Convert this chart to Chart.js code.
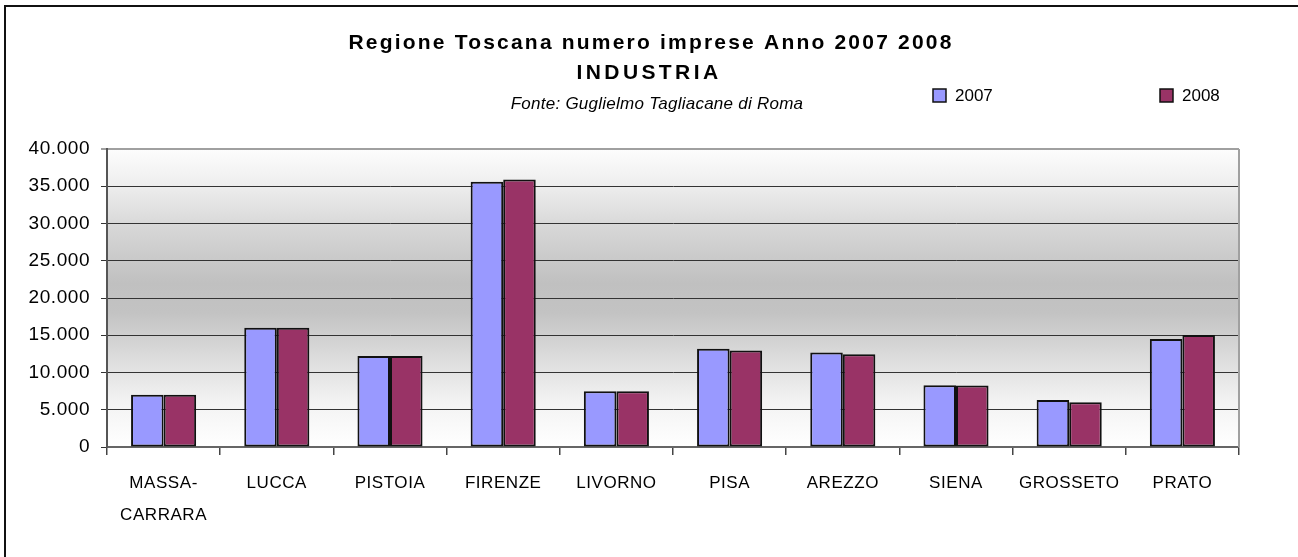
<!DOCTYPE html>
<html>
<head>
<meta charset="utf-8">
<title>Regione Toscana numero imprese</title>
<script src="https://cdn.jsdelivr.net/npm/chart.js@4.4.1/dist/chart.umd.min.js"></script>
<style>
  html, body { margin: 0; padding: 0; background: #fff; }
  #wrap { position: relative; width: 1298px; height: 557px; }
</style>
</head>
<body>
<div id="wrap"><canvas id="chart"></canvas></div>
<script>
// --- Data ---
const province = ['MASSA-CARRARA', 'LUCCA', 'PISTOIA', 'FIRENZE', 'LIVORNO', 'PISA', 'AREZZO', 'SIENA', 'GROSSETO', 'PRATO'];
const imprese2007 = [7000, 16000, 12200, 35600, 7500, 13200, 12700, 8300, 6300, 14500];
const imprese2008 = [7000, 16000, 12200, 35900, 7500, 12950, 12450, 8250, 6000, 15050];
const anni = ['2007', '2008'];
const titleLines = ['Regione Toscana numero imprese Anno 2007 2008', 'INDUSTRIA'];
const fonte = 'Fonte: Guglielmo Tagliacane di Roma';

const FONT = "'Liberation Sans', Arial, sans-serif";

// 40.000 style thousands separator
function formatNum(v) {
    return String(v).replace(/\B(?=(\d{3})+(?!\d))/g, '.');
}

// break "MASSA-CARRARA" after the hyphen
function splitLabel(s) {
    const i = s.indexOf('-');
    return i < 0 ? s : [s.slice(0, i + 1), s.slice(i + 1)];
}

function drawSpaced(ctx, text, x, y, font, spacing, align) {
    ctx.save();
    ctx.font = font;
    ctx.letterSpacing = spacing + 'px';
    ctx.textAlign = align;
    ctx.textBaseline = 'middle';
    ctx.fillStyle = '#000';
    ctx.fillText(text, x, y);
    ctx.restore();
}

// plot background, borders, title block and legend
const decorPlugin = {
    id: 'decor',
    beforeDraw(chart) {
        const { ctx, chartArea: a } = chart;
        ctx.save();
        const g = ctx.createLinearGradient(0, a.top, 0, a.bottom);
        g.addColorStop(0, '#fdfdfd');
        g.addColorStop(0.12, '#eeeeee');
        g.addColorStop(0.27, '#d6d6d6');
        g.addColorStop(0.45, '#c0c0c0');
        g.addColorStop(0.55, '#c3c3c3');
        g.addColorStop(0.7, '#dcdcdc');
        g.addColorStop(0.85, '#f3f3f3');
        g.addColorStop(1, '#ffffff');
        ctx.fillStyle = g;
        ctx.fillRect(a.left, a.top, a.right - a.left, a.bottom - a.top);
        ctx.restore();
        ctx.letterSpacing = '0.55px';
    },
    afterDraw(chart) {
        const { ctx, chartArea: a } = chart;
        ctx.save();
        ctx.letterSpacing = '0px';
        // right edge of the plot
        ctx.strokeStyle = '#a0a0a0';
        ctx.lineWidth = 2;
        ctx.beginPath();
        ctx.moveTo(a.right, a.top);
        ctx.lineTo(a.right, a.bottom);
        ctx.stroke();
        // outer frame
        ctx.strokeStyle = '#111';
        ctx.lineWidth = 2;
        ctx.strokeRect(5, 6, chart.width + 10, chart.height + 10);
        ctx.restore();

        const cx = chart.width / 2;
        drawSpaced(ctx, titleLines[0], cx + 2, 43, 'bold 21px ' + FONT, 2.2, 'center');
        drawSpaced(ctx, titleLines[1], cx, 73, 'bold 21px ' + FONT, 3.4, 'center');
        drawSpaced(ctx, fonte, cx + 8, 104, 'italic 17px ' + FONT, 0.25, 'center');

        // legend
        const legendX = [933, 1160];
        chart.data.datasets.forEach((ds, i) => {
            ctx.save();
            ctx.fillStyle = ds.backgroundColor;
            ctx.fillRect(legendX[i], 89, 13, 13);
            ctx.strokeStyle = '#111';
            ctx.lineWidth = 1.5;
            ctx.strokeRect(legendX[i], 89, 13, 13);
            ctx.restore();
            drawSpaced(ctx, ds.label, legendX[i] + 22, 96, '17px ' + FONT, 0, 'left');
        });
    }
};

const ctx = document.getElementById('chart').getContext('2d');
const chart = new Chart(ctx, {
    type: 'bar',
    data: {
        labels: province,
        datasets: [{
            label: anni[0],
            data: imprese2007,
            backgroundColor: '#9999ff',
            borderColor: '#111',
            borderWidth: 2,
            borderSkipped: false
        },
        {
            label: anni[1],
            data: imprese2008,
            backgroundColor: '#993366',
            borderColor: '#111',
            borderWidth: 2,
            borderSkipped: false
        }]
    },
    options: {
        responsive: true,
        maintainAspectRatio: false,
        animation: false,
        categoryPercentage: 0.575,
        barPercentage: 1.0,
        layout: {
            padding: { top: 149, left: 0, right: 59, bottom: 10 }
        },
        scales: {
            x: {
                offset: true,
                grid: {
                    offset: true,
                    drawOnChartArea: false,
                    drawTicks: true,
                    tickLength: 8,
                    color: '#444',
                    lineWidth: 1.5
                },
                border: { color: '#666', width: 2 },
                ticks: {
                    color: '#000',
                    font: { family: FONT, size: 17, lineHeight: 1.9 },
                    padding: 12,
                    maxRotation: 0,
                    autoSkip: false,
                    callback: function (value) {
                        return splitLabel(this.getLabelForValue(value));
                    }
                },
                afterFit(scale) { scale.height = 100; }
            },
            y: {
                min: 0,
                max: 40000,
                ticks: {
                    stepSize: 5000,
                    color: '#000',
                    font: { family: FONT, size: 19 },
                    padding: 11,
                    callback: (v) => formatNum(v)
                },
                grid: {
                    color: (c) => c.tick && c.tick.value === 40000 ? '#a0a0a0' : '#333',
                    lineWidth: (c) => c.tick && c.tick.value === 40000 ? 2 : 1,
                    tickLength: 6
                },
                border: { color: '#555', width: 2 },
                afterFit(scale) { scale.width = 107; }
            }
        },
        plugins: {
            legend: { display: false },
            title: { display: false },
            tooltip: { enabled: false }
        }
    },
    plugins: [decorPlugin]
});
</script>
</body>
</html>
